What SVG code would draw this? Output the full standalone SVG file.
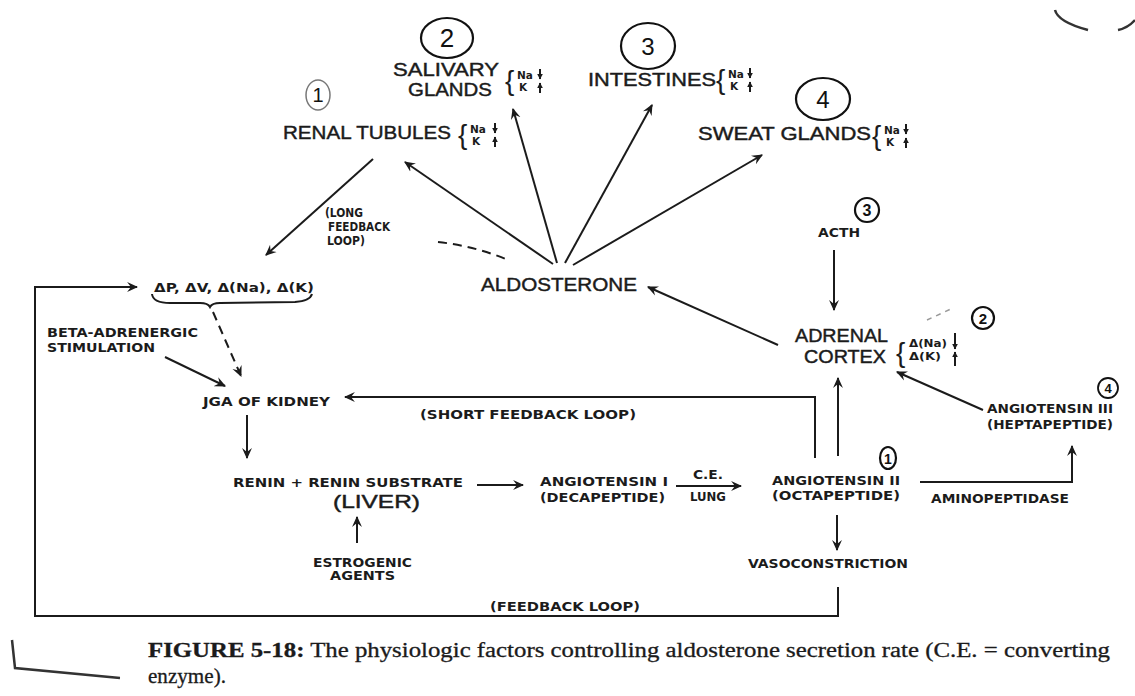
<svg xmlns="http://www.w3.org/2000/svg" width="1135" height="696" viewBox="0 0 1135 696">
<style>
.big{font-family:"Liberation Sans",Arial,sans-serif;font-size:19px;fill:#1b1b1b;stroke:#1b1b1b;stroke-width:0.45}
.sm{font-family:"DejaVu Sans",sans-serif;font-weight:bold;font-size:11.5px;fill:#1b1b1b}
.br{font-family:"Liberation Sans",Arial,sans-serif;font-size:28px;fill:#1b1b1b}
.ion{font-family:"DejaVu Sans",sans-serif;font-weight:bold;font-size:10.5px;fill:#1b1b1b}
.ia{stroke:#1b1b1b;stroke-width:2;fill:none}
.hand{font-family:"Liberation Sans",Arial,sans-serif;fill:#111}
.circ{fill:none;stroke:#111;stroke-width:2.2}
.ln{stroke:#1b1b1b;stroke-width:2;fill:none}
.dash{stroke:#1b1b1b;stroke-width:2;fill:none;stroke-dasharray:9 6}
.cap{font-family:"Liberation Serif","Times New Roman",serif;font-size:20px;fill:#1b1b1b;stroke:#1b1b1b;stroke-width:0.3}
</style>
<defs>
<marker id="ah" viewBox="0 0 10 10" refX="9" refY="5" markerWidth="11" markerHeight="11" markerUnits="userSpaceOnUse" orient="auto">
<path d="M0,0.5 L10,5 L0,9.5 L3.5,5 z" fill="#1b1b1b"/>
</marker>
<marker id="as" viewBox="0 0 10 10" refX="9" refY="5" markerWidth="6" markerHeight="7" markerUnits="userSpaceOnUse" orient="auto">
<path d="M0,0 L10,5 L0,10 z" fill="#1b1b1b"/>
</marker>
</defs>
<rect width="1135" height="696" fill="#ffffff"/>

<g id="connectors">
<line class="ln" x1="373" y1="159" x2="266" y2="255" marker-end="url(#ah)"/>
<line class="ln" x1="553" y1="264" x2="405" y2="162" marker-end="url(#ah)"/>
<line class="ln" x1="557" y1="263" x2="513" y2="109" marker-end="url(#ah)"/>
<line class="ln" x1="565" y1="263" x2="652" y2="105" marker-end="url(#ah)"/>
<line class="ln" x1="573" y1="265" x2="762" y2="155" marker-end="url(#ah)"/>
<path class="dash" d="M438,242 Q475,246 508,260"/>
<line class="ln" x1="778" y1="345" x2="648" y2="287" marker-end="url(#ah)"/>
<line class="ln" x1="834" y1="250" x2="834" y2="310" marker-end="url(#ah)"/>
<polyline class="ln" points="838,587 838,616 35,616 35,287 137,287" marker-end="url(#ah)"/>
<path class="ln" d="M152,294 Q153,303 170,303 L200,303 Q208,303 210,307 Q212,303 220,303 L295,302 Q310,301 312,294"/>
<line class="dash" x1="213" y1="312" x2="241" y2="376" marker-end="url(#ah)"/>
<line class="ln" x1="165" y1="357" x2="225" y2="386" marker-end="url(#ah)"/>
<polyline class="ln" points="815,458 815,397 345,397" marker-end="url(#ah)"/>
<line class="ln" x1="838" y1="456" x2="838" y2="378" marker-end="url(#ah)"/>
<line class="ln" x1="247" y1="415" x2="247" y2="458" marker-end="url(#ah)"/>
<line class="ln" x1="477" y1="485" x2="523" y2="485" marker-end="url(#ah)"/>
<line class="ln" x1="676" y1="486" x2="741" y2="486" marker-end="url(#ah)"/>
<line class="ln" x1="357" y1="543" x2="357" y2="517" marker-end="url(#ah)"/>
<polyline class="ln" points="920,482 1072,482 1072,446" marker-end="url(#ah)"/>
<line class="ln" x1="983" y1="410" x2="897" y2="372" marker-end="url(#ah)"/>
<line class="ln" x1="837" y1="515" x2="837" y2="550" marker-end="url(#ah)"/>
<line x1="927" y1="320" x2="953" y2="308" stroke="#999" stroke-width="1.5" stroke-dasharray="5 5"/>
</g>

<g id="salivary">
<ellipse class="circ" cx="447" cy="38" rx="26" ry="20"/>
<text class="hand" x="447" y="47" font-size="26" text-anchor="middle">2</text>
<text class="big" x="393" y="76" textLength="106" lengthAdjust="spacingAndGlyphs">SALIVARY</text>
<text class="big" x="408" y="96" textLength="84" lengthAdjust="spacingAndGlyphs">GLANDS</text>
<g transform="translate(505,90)">
<text class="br" x="0" y="0">{</text>
<text class="ion" x="12" y="-11">Na</text><text class="ion" x="14" y="1">K</text>
<line class="ia" x1="35" y1="-21" x2="35" y2="-11" marker-end="url(#as)"/>
<line class="ia" x1="35" y1="3" x2="35" y2="-7" marker-end="url(#as)"/>
</g>
</g>

<g id="renal">
<ellipse cx="318" cy="95" rx="12" ry="15" fill="none" stroke="#777" stroke-width="1.5"/>
<text class="hand" x="318" y="102" font-size="20" text-anchor="middle" fill="#444">1</text>
<text class="big" x="283" y="139" textLength="168" lengthAdjust="spacingAndGlyphs">RENAL TUBULES</text>
<g transform="translate(458,144)">
<text class="br" x="0" y="0">{</text>
<text class="ion" x="12" y="-11">Na</text><text class="ion" x="14" y="1">K</text>
<line class="ia" x1="37" y1="-21" x2="37" y2="-11" marker-end="url(#as)"/>
<line class="ia" x1="37" y1="3" x2="37" y2="-7" marker-end="url(#as)"/>
</g>
</g>

<g id="intestines">
<ellipse class="circ" cx="648" cy="46" rx="27" ry="23"/>
<text class="hand" x="648" y="55" font-size="24" text-anchor="middle">3</text>
<text class="big" x="588" y="86" textLength="128" lengthAdjust="spacingAndGlyphs">INTESTINES</text>
<g transform="translate(716,89)">
<text class="br" x="0" y="0">{</text>
<text class="ion" x="12" y="-11">Na</text><text class="ion" x="14" y="1">K</text>
<line class="ia" x1="34" y1="-21" x2="34" y2="-11" marker-end="url(#as)"/>
<line class="ia" x1="34" y1="3" x2="34" y2="-7" marker-end="url(#as)"/>
</g>
</g>

<g id="sweat">
<ellipse class="circ" cx="823" cy="99" rx="27" ry="21"/>
<text class="hand" x="823" y="108" font-size="24" text-anchor="middle">4</text>
<text class="big" x="698" y="140" textLength="173" lengthAdjust="spacingAndGlyphs">SWEAT GLANDS</text>
<g transform="translate(872,145)">
<text class="br" x="0" y="0">{</text>
<text class="ion" x="12" y="-11">Na</text><text class="ion" x="14" y="1">K</text>
<line class="ia" x1="34" y1="-21" x2="34" y2="-11" marker-end="url(#as)"/>
<line class="ia" x1="34" y1="3" x2="34" y2="-7" marker-end="url(#as)"/>
</g>
</g>

<g id="long-feedback-label">
<text class="sm" x="325" y="217" textLength="38" lengthAdjust="spacingAndGlyphs">(LONG</text>
<text class="sm" x="328" y="231" textLength="62" lengthAdjust="spacingAndGlyphs">FEEDBACK</text>
<text class="sm" x="327" y="245" textLength="38" lengthAdjust="spacingAndGlyphs">LOOP)</text>
</g>

<g id="aldosterone">
<text class="big" x="481" y="291" textLength="156" lengthAdjust="spacingAndGlyphs">ALDOSTERONE</text>
</g>

<g id="acth">
<text class="sm" x="818" y="237" textLength="42" lengthAdjust="spacingAndGlyphs">ACTH</text>
<circle class="circ" cx="867" cy="210" r="12"/>
<text class="hand" x="867" y="216" font-size="16" font-weight="bold" text-anchor="middle">3</text>
</g>

<g id="adrenal">
<text class="big" x="795" y="342" textLength="93" lengthAdjust="spacingAndGlyphs">ADRENAL</text>
<text class="big" x="804" y="363" textLength="82" lengthAdjust="spacingAndGlyphs">CORTEX</text>
<g transform="translate(896,362)">
<text class="br" x="0" y="0" font-size="32">{</text>
<text class="ion" x="13" y="-15" textLength="38" lengthAdjust="spacingAndGlyphs">Δ(Na)</text>
<text class="ion" x="13" y="-2" textLength="32" lengthAdjust="spacingAndGlyphs">Δ(K)</text>
<line class="ia" x1="59" y1="-29" x2="59" y2="-13" stroke-width="2.5" marker-end="url(#as)"/>
<line class="ia" x1="59" y1="4" x2="59" y2="-10" stroke-width="2.5" marker-end="url(#as)"/>
</g>
<circle class="circ" cx="983" cy="318" r="11"/>
<text class="hand" x="983" y="324" font-size="15" font-weight="bold" text-anchor="middle">2</text>
</g>

<g id="delta">
<text class="sm" x="154" y="292" font-size="13" textLength="160" lengthAdjust="spacingAndGlyphs">ΔP, ΔV, Δ(Na), Δ(K)</text>
</g>

<g id="beta">
<text class="sm" x="47" y="337" textLength="151" lengthAdjust="spacingAndGlyphs">BETA-ADRENERGIC</text>
<text class="sm" x="47" y="352" textLength="108" lengthAdjust="spacingAndGlyphs">STIMULATION</text>
</g>

<g id="jga">
<text class="sm" x="203" y="406" textLength="127" lengthAdjust="spacingAndGlyphs">JGA OF KIDNEY</text>
</g>

<g id="short-feedback-label">
<text class="sm" x="420" y="419" textLength="216" lengthAdjust="spacingAndGlyphs">(SHORT FEEDBACK LOOP)</text>
</g>

<g id="renin">
<text class="sm" x="233" y="487" textLength="230" lengthAdjust="spacingAndGlyphs">RENIN + RENIN SUBSTRATE</text>
<text class="big" x="333" y="508" textLength="87" lengthAdjust="spacingAndGlyphs">(LIVER)</text>
</g>

<g id="estrogenic">
<text class="sm" x="313" y="567" textLength="99" lengthAdjust="spacingAndGlyphs">ESTROGENIC</text>
<text class="sm" x="330" y="580" textLength="65" lengthAdjust="spacingAndGlyphs">AGENTS</text>
</g>

<g id="angiotensin1">
<text class="sm" x="540" y="486" textLength="128" lengthAdjust="spacingAndGlyphs">ANGIOTENSIN I</text>
<text class="sm" x="540" y="502" textLength="125" lengthAdjust="spacingAndGlyphs">(DECAPEPTIDE)</text>
</g>

<g id="ce-label">
<text class="sm" x="693" y="479" font-size="11" textLength="30" lengthAdjust="spacingAndGlyphs">C.E.</text>
<text class="sm" x="690" y="501" font-size="11" textLength="36" lengthAdjust="spacingAndGlyphs">LUNG</text>
</g>

<g id="angiotensin2">
<text class="sm" x="772" y="485" textLength="128" lengthAdjust="spacingAndGlyphs">ANGIOTENSIN II</text>
<text class="sm" x="772" y="500" textLength="128" lengthAdjust="spacingAndGlyphs">(OCTAPEPTIDE)</text>
<ellipse class="circ" cx="888" cy="458" rx="8" ry="11"/>
<text class="hand" x="888" y="464" font-size="14" font-weight="bold" text-anchor="middle">1</text>
</g>

<g id="aminopeptidase">
<text class="sm" x="931" y="503" textLength="138" lengthAdjust="spacingAndGlyphs">AMINOPEPTIDASE</text>
</g>

<g id="angiotensin3">
<text class="sm" x="987" y="413" textLength="126" lengthAdjust="spacingAndGlyphs">ANGIOTENSIN III</text>
<text class="sm" x="987" y="429" textLength="126" lengthAdjust="spacingAndGlyphs">(HEPTAPEPTIDE)</text>
<circle cx="1108" cy="388" r="10" fill="none" stroke="#111" stroke-width="1.8"/>
<text class="hand" x="1108" y="393" font-size="13" font-weight="bold" text-anchor="middle">4</text>
</g>

<g id="vasoconstriction">
<text class="sm" x="748" y="568" textLength="160" lengthAdjust="spacingAndGlyphs">VASOCONSTRICTION</text>
</g>

<g id="feedback-label">
<text class="sm" x="490" y="611" font-size="10.5" textLength="150" lengthAdjust="spacingAndGlyphs">(FEEDBACK LOOP)</text>
</g>

<g id="caption">
<text class="cap" x="148" y="657" textLength="962" lengthAdjust="spacingAndGlyphs"><tspan font-weight="bold">FIGURE 5-18:</tspan> The physiologic factors controlling aldosterone secretion rate (C.E. = converting</text>
<text class="cap" x="148" y="683" textLength="78" lengthAdjust="spacingAndGlyphs">enzyme).</text>
</g>

<g id="scan-marks" fill="none" stroke="#333" stroke-width="2.5">
<path d="M1055,10 Q1058,22 1088,30"/>
<path d="M1118,30 Q1128,28 1135,20"/>
<path d="M12,640 L15,668 L120,678"/>
</g>
</svg>
